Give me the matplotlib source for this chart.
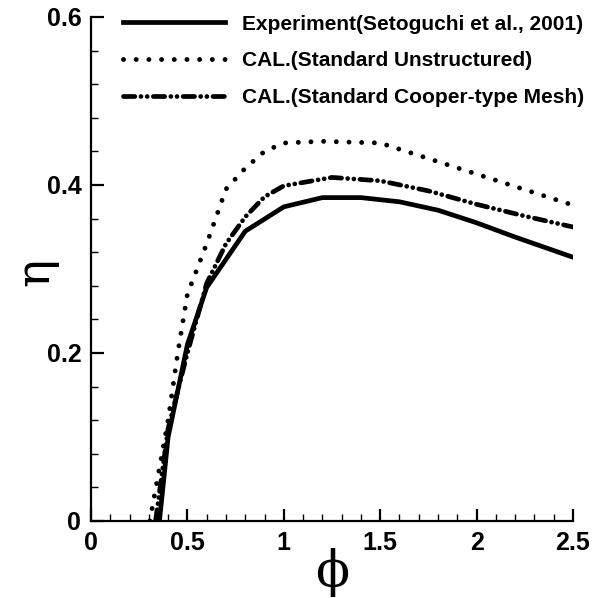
import numpy as np
import matplotlib
matplotlib.use("Agg")
import matplotlib.pyplot as plt
from matplotlib.ticker import MultipleLocator, FormatStrFormatter

# Daten
phi_exp = [0.355, 0.40, 0.50, 0.60, 0.80, 1.0, 1.2, 1.4, 1.6, 1.8, 2.0, 2.2, 2.4, 2.5]
eta_exp = [0.0, 0.10, 0.21, 0.278, 0.345, 0.374, 0.385, 0.385, 0.380, 0.370, 0.355, 0.338, 0.322, 0.314]

phi_unstr = [0.305, 0.40, 0.45, 0.50, 0.55, 0.60, 0.70, 0.80, 0.90, 1.0, 1.2, 1.5, 2.0, 2.5]
eta_unstr = [0.0, 0.12, 0.20, 0.27, 0.30, 0.33, 0.395, 0.42, 0.44, 0.45, 0.452, 0.45, 0.413, 0.376]

phi_cooper = [0.335, 0.40, 0.50, 0.60, 0.70, 0.80, 0.90, 1.0, 1.25, 1.5, 1.75, 2.0, 2.25, 2.5]
eta_cooper = [0.0, 0.11, 0.20, 0.283, 0.33, 0.362, 0.386, 0.399, 0.409, 0.405, 0.393, 0.377, 0.363, 0.350]

labels = ["Experiment(Setoguchi et al., 2001)",
          "CAL.(Standard Unstructured)",
          "CAL.(Standard Cooper-type Mesh)"]

W, H = 603, 598
fig = plt.figure(figsize=(W / 100, H / 100), dpi=100)
ax = fig.add_axes([91 / W, (H - 521) / H, (573 - 91) / W, (521 - 17) / H])

l1, = ax.plot(phi_exp, eta_exp, color="black", lw=3.4, solid_joinstyle="miter")
l2, = ax.plot(phi_unstr, eta_unstr, color="black", lw=3.5,
              linestyle=(0, (0.01, 2.6)), dash_capstyle="round")
l3, = ax.plot(phi_cooper, eta_cooper, color="black", lw=3.4,
              linestyle=(0, (2.4, 1.3, 0.01, 1.3, 0.01, 1.3)), dash_capstyle="round")

ax.set_xlim(0, 2.5)
ax.set_ylim(0, 0.6)
ax.spines["top"].set_visible(False)
ax.spines["right"].set_visible(False)
ax.spines["left"].set_linewidth(1.6)
ax.spines["bottom"].set_linewidth(1.6)

ax.xaxis.set_major_locator(MultipleLocator(0.5))
ax.xaxis.set_minor_locator(MultipleLocator(0.1))
ax.yaxis.set_major_locator(MultipleLocator(0.2))
ax.yaxis.set_minor_locator(MultipleLocator(0.04))
ax.xaxis.set_major_formatter(FormatStrFormatter("%g"))
ax.yaxis.set_major_formatter(FormatStrFormatter("%g"))
ax.tick_params(which="major", direction="in", length=9, width=1.6, pad=7)
ax.tick_params(which="minor", direction="in", length=5, width=1.0)
for t in ax.get_xticklabels() + ax.get_yticklabels():
    t.set_fontfamily("Liberation Sans")
    t.set_fontweight("bold")
    t.set_fontsize(18)

fig.text(332 / W, 1 - 572 / H, "\u03d5", fontsize=36, family="DejaVu Serif",
         ha="center", va="center")
fig.text(36 / W, 1 - 272 / H, "\u03b7", fontsize=34, family="DejaVu Serif",
         ha="center", va="center", rotation=90)

leg = ax.legend([l1, l2, l3], labels, loc="upper left",
                bbox_to_anchor=(104 / W, 1 + 4 / H), bbox_transform=fig.transFigure,
                frameon=False, handlelength=4.9, handletextpad=0.8, labelspacing=0.85,
                prop={"family": "Liberation Sans", "weight": "bold", "size": 15})

fig.savefig("out.png", dpi=100)
